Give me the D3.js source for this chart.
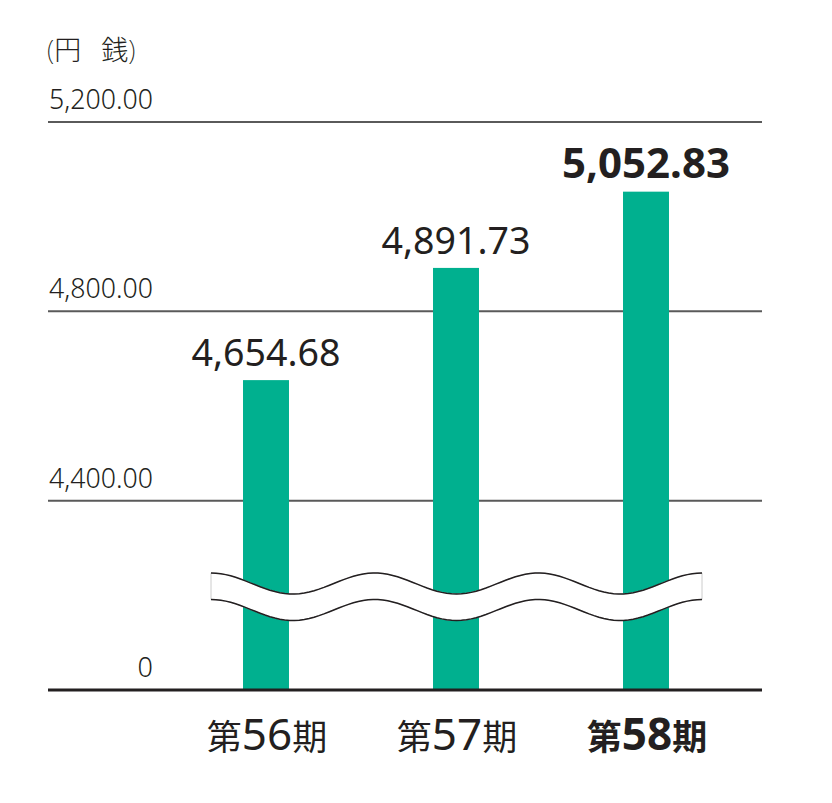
<!DOCTYPE html>
<html>
<head>
<meta charset="utf-8">
<script src="https://cdn.jsdelivr.net/npm/d3@7"></script>
<style>
  body { margin: 0; background: #fff; }
  text { font-family: "Noto Sans", "Noto Sans CJK JP", sans-serif; fill: #231f20; }
</style>
</head>
<body>
<svg width="832" height="803"></svg>
<script>
var periods = ["第56期", "第57期", "第58期"];
var periodNums = ["56", "57", "58"];
var values = [4654.68, 4891.73, 5052.83];
var tickValues = [4000, 4400, 4800, 5200];
var tickLabels = ["0", "4,400.00", "4,800.00", "5,200.00"];
var valueLabels = ["4,654.68", "4,891.73", "5,052.83"];

var svg = d3.select("svg");

var y = d3.scaleLinear()
    .domain([4000, 5200])
    .range([690, 122]);

var x = d3.scaleBand()
    .domain(periods)
    .range([171, 741])
    .paddingInner(0.758)
    .paddingOuter(0.379);

// grid lines
svg.selectAll("line.grid")
    .data(tickValues.slice(1))
    .enter().append("line")
    .attr("class", "grid")
    .attr("x1", 48)
    .attr("x2", 762)
    .attr("y1", function (d) { return y(d); })
    .attr("y2", function (d) { return y(d); })
    .attr("stroke", "#5a5a5a")
    .attr("stroke-width", 2);

// tick labels
svg.selectAll("text.tick")
    .data(tickValues)
    .enter().append("text")
    .attr("class", "tick")
    .attr("x", 153)
    .attr("y", function (d) { return y(d) - 13; })
    .attr("text-anchor", "end")
    .attr("font-size", 27)
    .attr("font-weight", 300)
    .attr("textLength", function (d, i) { return i === 0 ? null : 104; })
    .attr("lengthAdjust", "spacingAndGlyphs")
    .text(function (d, i) { return tickLabels[i]; });

// unit label
var unit = svg.append("text")
    .attr("x", 47)
    .attr("y", 60)
    .attr("font-size", 27)
    .attr("font-weight", 200)
    .attr("font-family", "Noto Sans CJK JP");
unit.append("tspan").text("(円");
unit.append("tspan").attr("dx", 20).text("銭)");

// bars
svg.selectAll("rect.bar")
    .data(values)
    .enter().append("rect")
    .attr("class", "bar")
    .attr("x", function (d, i) { return x(periods[i]); })
    .attr("width", x.bandwidth())
    .attr("y", function (d) { return y(d); })
    .attr("height", function (d) { return y(4000) - y(d); })
    .attr("fill", "#00b08f");

// value labels
svg.selectAll("text.value")
    .data(values)
    .enter().append("text")
    .attr("class", "value")
    .attr("x", function (d, i) { return x(periods[i]) + x.bandwidth() / 2; })
    .attr("y", function (d) { return y(d) - 14; })
    .attr("text-anchor", "middle")
    .attr("font-size", function (d, i) { return i === 2 ? 41 : 39; })
    .attr("font-weight", function (d, i) { return i === 2 ? 700 : 400; })
    .attr("textLength", function (d, i) { return i === 2 ? 168 : 149; })
    .attr("lengthAdjust", "spacingAndGlyphs")
    .text(function (d, i) { return valueLabels[i]; });

// baseline
svg.append("line")
    .attr("x1", 48)
    .attr("x2", 762)
    .attr("y1", y(4000))
    .attr("y2", y(4000))
    .attr("stroke", "#231f20")
    .attr("stroke-width", 3);

// x labels
var xl = svg.selectAll("text.period")
    .data(periods)
    .enter().append("text")
    .attr("class", "period")
    .attr("x", function (d) { return x(d) + x.bandwidth() / 2 + 1; })
    .attr("y", 750)
    .attr("text-anchor", "middle")
    .attr("font-weight", function (d, i) { return i === 2 ? 700 : 400; });
xl.append("tspan")
    .attr("font-family", "Noto Sans CJK JP")
    .attr("font-size", 35)
    .text("第");
xl.append("tspan")
    .attr("font-size", 44)
    .text(function (d, i) { return periodNums[i]; });
xl.append("tspan")
    .attr("font-family", "Noto Sans CJK JP")
    .attr("font-size", 35)
    .text("期");

// break mark (wave band)
var waveX = d3.scaleLinear().domain([0, 1]).range([211, 702]);
var steps = d3.range(0, 1.0001, 0.01);
function wave(t) { return -Math.cos(t * Math.PI * 6) * 10.5; }
var topY = 583.5, bottomY = 610;
var topPts = steps.map(function (t) { return [waveX(t), topY + wave(t)]; });
var botPts = steps.map(function (t) { return [waveX(t), bottomY + wave(t)]; });
var line = d3.line();

svg.append("path")
    .attr("d", line(topPts.concat(botPts.slice().reverse())) + "Z")
    .attr("fill", "#fff")
    .attr("stroke", "#cccccc")
    .attr("stroke-width", 1);
svg.append("path")
    .attr("d", line(topPts))
    .attr("fill", "none")
    .attr("stroke", "#231f20")
    .attr("stroke-width", 1.5);
svg.append("path")
    .attr("d", line(botPts))
    .attr("fill", "none")
    .attr("stroke", "#231f20")
    .attr("stroke-width", 1.5);
</script>
</body>
</html>
